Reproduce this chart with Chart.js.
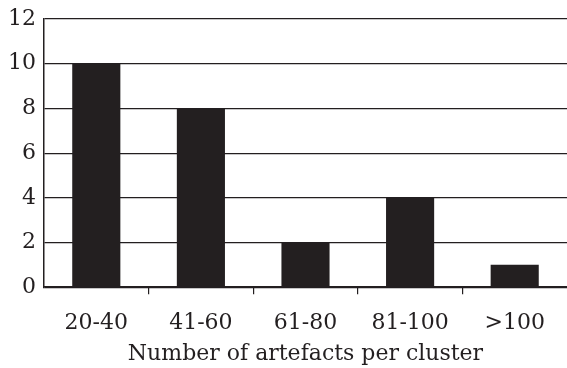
<!DOCTYPE html>
<html>
<head>
<meta charset="utf-8">
<script src="https://cdn.jsdelivr.net/npm/chart.js@4.4.0/dist/chart.umd.min.js"></script>
<style>
  html, body { margin: 0; padding: 0; background: #fff; }
  #wrap { width: 567px; height: 368px; }
</style>
</head>
<body>
<div id="wrap"><canvas id="bar-chart"></canvas></div>
<script>
let clusterLabels = ["20-40", "41-60", "61-80", "81-100", ">100"];
let clusterCounts = [10, 8, 2, 4, 1];
let yTicks = [0, 2, 4, 6, 8, 10, 12];

const ink = '#231f20';
const serif = "'DejaVu Serif', 'Liberation Serif', serif";

new Chart(document.getElementById("bar-chart"), {
    type: 'bar',
    data: {
        labels: clusterLabels,
        datasets: [{
            data: clusterCounts,
            backgroundColor: ink,
            borderWidth: 0,
            categoryPercentage: 1,
            barPercentage: 0.46
        }]
    },
    options: {
        responsive: true,
        maintainAspectRatio: false,
        animation: false,
        layout: { padding: { top: 3, right: 0, left: 0, bottom: 0 } },
        plugins: {
            legend: { display: false },
            tooltip: { enabled: false }
        },
        scales: {
            x: {
                offset: true,
                grid: {
                    offset: true,
                    drawOnChartArea: false,
                    drawTicks: true,
                    tickLength: 7,
                    lineWidth: 1.2,
                    color: function (c) {
                        return (c.index === undefined || c.index === 0) ? 'rgba(0,0,0,0)' : ink;
                    }
                },
                border: { display: true, color: ink, width: 1.5 },
                ticks: {
                    color: ink,
                    padding: 16,
                    font: { family: serif, size: 22 }
                },
                title: {
                    display: true,
                    text: 'Number of artefacts per cluster',
                    color: ink,
                    padding: { top: -12, bottom: 1 },
                    font: { family: serif, size: 22 }
                }
            },
            y: {
                min: 0,
                max: 12,
                afterBuildTicks: function (axis) {
                    axis.ticks = yTicks.map(v => ({ value: v }));
                },
                grid: {
                    drawTicks: false,
                    color: ink,
                    lineWidth: 1.2
                },
                border: { display: true, color: ink, width: 1.5 },
                ticks: {
                    color: ink,
                    padding: 8,
                    font: { family: serif, size: 22, lineHeight: 1 }
                }
            }
        }
    }
});
</script>
</body>
</html>
